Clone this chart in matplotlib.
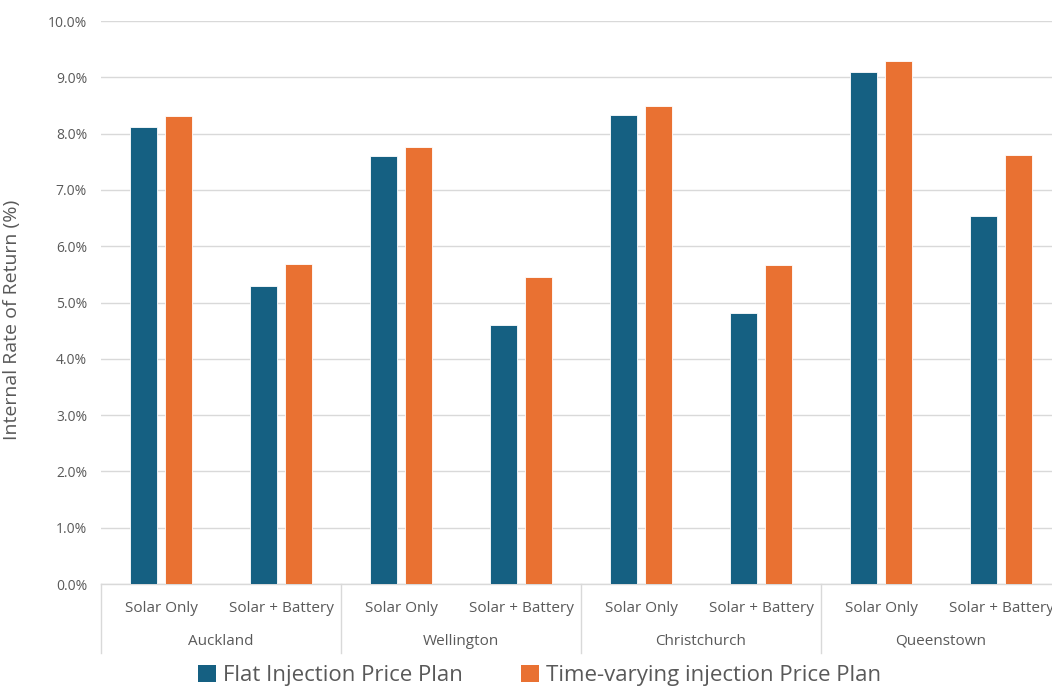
import matplotlib
matplotlib.use("Agg")
import matplotlib.pyplot as plt
from matplotlib.patches import Patch
from matplotlib.lines import Line2D
import matplotlib.transforms as mtransforms
import numpy as np

cities = ["Auckland", "Wellington", "Christchurch", "Queenstown"]
systems = ["Solar Only", "Solar + Battery"]
flat = [8.12, 5.29, 7.60, 4.60, 8.33, 4.81, 9.09, 6.54]
tvar = [8.31, 5.68, 7.76, 5.45, 8.49, 5.67, 9.29, 7.62]
series_names = ["Flat Injection Price Plan", "Time-varying injection Price Plan"]
colors = ["#156082", "#E97132"]
yticks = [0, 1, 2, 3, 4, 5, 6, 7, 8, 9, 10]

plt.rcParams['font.family'] = ['Open Sans', 'DejaVu Sans']
grey = "#595959"

fig = plt.figure(figsize=(10.52, 6.91), dpi=100)
ax_h = 0.8148
ax = fig.add_axes([0.096, 0.1548, 0.9125, ax_h])

n = len(flat)
x = np.arange(n)
w = 0.227
off = 0.147
ax.bar(x - off, flat, width=w, color=colors[0], edgecolor="white", linewidth=0.6, zorder=3)
ax.bar(x + off, tvar, width=w, color=colors[1], edgecolor="white", linewidth=0.6, zorder=3)

ax.set_xlim(-0.5, n - 0.5)
ax.set_ylim(0, 10)
ax.set_yticks(yticks)
ax.set_yticklabels([f"{v:.1f}%" for v in yticks], fontsize=10, color=grey)
ax.grid(axis="y", color="#D9D9D9", linewidth=1, zorder=0)
ax.tick_params(axis="y", length=0, pad=10)
ax.tick_params(axis="x", length=0)
ax.set_xticks([])
for s in ["top", "right", "left"]:
    ax.spines[s].set_visible(False)
ax.spines["bottom"].set_color("#D9D9D9")
ax.spines["bottom"].set_linewidth(1)

ax.set_ylabel("Internal Rate of Return (%)", fontsize=14, color=grey)
ax.yaxis.set_label_coords(-0.083, 0.47)

trans = mtransforms.blended_transform_factory(ax.transData, ax.transAxes)
axh = ax_h * 6.91 * 100  # axis height in px
def ypx(px):
    return -px / axh

for i in range(n):
    ax.text(i, ypx(24), systems[i % 2], transform=trans, ha="center", va="center",
            fontsize=11, color=grey)
for j, c in enumerate(cities):
    ax.text(2 * j + 0.5, ypx(57), c, transform=trans, ha="center", va="center",
            fontsize=11, color=grey)
for j in range(len(cities) + 1):
    xb = 2 * j - 0.5
    if xb > n - 0.5:
        continue
    ax.add_line(Line2D([xb, xb], [0, ypx(69)], transform=trans, color="#D9D9D9",
                       linewidth=1, clip_on=False))

handles = [Patch(facecolor=colors[0]), Patch(facecolor=colors[1])]
fig.legend(handles, series_names, loc="center", bbox_to_anchor=(0.513, 0.022),
           ncol=2, frameon=False, fontsize=16, handlelength=0.8, handleheight=0.8,
           handletextpad=0.35, columnspacing=2.6, labelcolor=grey,
           borderaxespad=0, borderpad=0.1)

fig.savefig("out.png", dpi=100)
